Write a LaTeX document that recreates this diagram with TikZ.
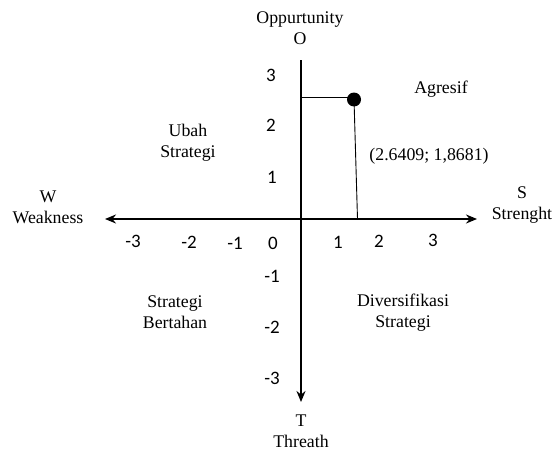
\documentclass[tikz,border=0pt]{standalone}
\usepackage{fontspec}
\setmainfont{Liberation Serif}
\newfontfamily\tickfnt{Carlito}
\usetikzlibrary{arrows.meta}
\begin{document}
\begin{tikzpicture}[x=1pt,y=-1pt,
  axis/.style={line width=2.2pt,-{Stealth[length=11pt,width=9pt]}},
  guide/.style={line width=0.9pt},
  lbl/.style={font=\fontsize{17.8}{21}\selectfont,align=center,inner sep=0pt},
  tick/.style={font=\tickfnt\fontsize{19}{22}\selectfont,inner sep=0pt}]
\useasboundingbox (0,0) rectangle (556,452);
% axes
\coordinate (O) at (301,219);
\coordinate (top) at (301,60);
\coordinate (bot) at (301,402);
\coordinate (lft) at (105,219);
\coordinate (rgt) at (477,219);
\draw[line width=2.2pt] (top) -- (O);
\draw[axis] (O) -- (bot);
\draw[axis] (O) -- (lft);
\draw[axis] (O) -- (rgt);
% point
\coordinate (py) at (301,97.5);
\coordinate (px) at (357.5,219);
\node[circle,fill=black,inner sep=0pt,minimum size=14pt] (pt) at (354,99.5) {};
\draw[guide] (py) -- (py -| pt.center);
\draw[guide] (pt.center) -- (px);
% axis labels
\node[lbl] (lO) at (300,28.5) {Oppurtunity\\O};
\node[lbl] (lT) at (301,431) {T\\Threath};
\node[lbl] (lW) at (48,207.5) {W\\Weakness};
\node[lbl] (lS) at (522,205.5) {S\\Strenght};
% quadrant labels
\node[lbl] (q1) at (441,89) {Agresif};
\node[lbl] (coord) at (429,156) {(2.6409; 1,8681)};
\node[lbl] (q2) at (188,142.5) {Ubah\\Strategi};
\node[lbl] (q3) at (175,312.5) {Strategi\\Bertahan};
\node[lbl] (q4) at (403,312.5) {Diversifikasi\\Strategi};
% ticks
\node[tick] (y3) at (271,75) {3};
\node[tick] (y2) at (271,125) {2};
\node[tick] (y1) at (272,177) {1};
\node[tick] (ym1) at (272,276) {-1};
\node[tick] (ym2) at (272,327) {-2};
\node[tick] (ym3) at (272,378) {-3};
\node[tick] (xm3) at (133,241) {-3};
\node[tick] (xm2) at (189,242) {-2};
\node[tick] (xm1) at (235,243) {-1};
\node[tick] (x0) at (273,243) {0};
\node[tick] (x1) at (338,242) {1};
\node[tick] (x2) at (379,241) {2};
\node[tick] (x3) at (433,240) {3};
\end{tikzpicture}
\end{document}
